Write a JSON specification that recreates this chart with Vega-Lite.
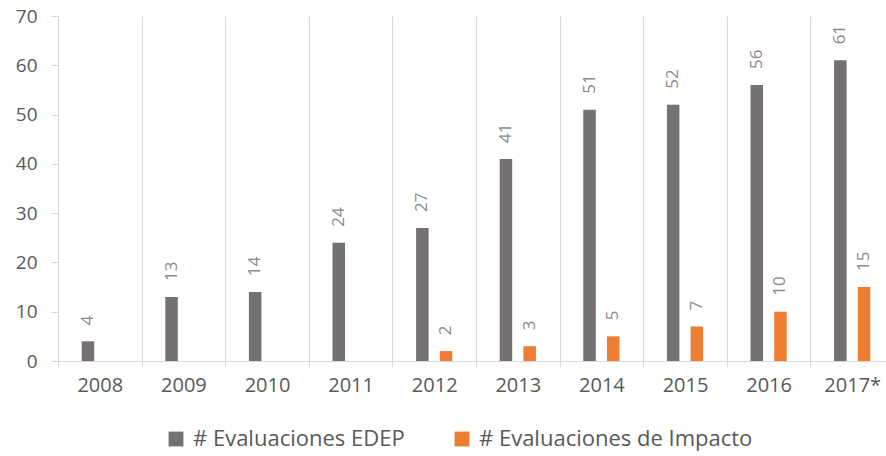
{
  "$schema": "https://vega.github.io/schema/vega-lite/v6.json",
  "width": 836,
  "height": 345,
  "autosize": {"type": "none"},
  "padding": {"left": 58, "top": 16, "right": 0, "bottom": 95},
  "config": {"view": {"stroke": null}, "font": "Open Sans"},
  "data": {
    "values": [
      {"year": "2008", "series": "# Evaluaciones EDEP", "value": 4},
      {"year": "2009", "series": "# Evaluaciones EDEP", "value": 13},
      {"year": "2010", "series": "# Evaluaciones EDEP", "value": 14},
      {"year": "2011", "series": "# Evaluaciones EDEP", "value": 24},
      {"year": "2012", "series": "# Evaluaciones EDEP", "value": 27},
      {"year": "2013", "series": "# Evaluaciones EDEP", "value": 41},
      {"year": "2014", "series": "# Evaluaciones EDEP", "value": 51},
      {"year": "2015", "series": "# Evaluaciones EDEP", "value": 52},
      {"year": "2016", "series": "# Evaluaciones EDEP", "value": 56},
      {"year": "2017*", "series": "# Evaluaciones EDEP", "value": 61},
      {"year": "2012", "series": "# Evaluaciones de Impacto", "value": 2},
      {"year": "2013", "series": "# Evaluaciones de Impacto", "value": 3},
      {"year": "2014", "series": "# Evaluaciones de Impacto", "value": 5},
      {"year": "2015", "series": "# Evaluaciones de Impacto", "value": 7},
      {"year": "2016", "series": "# Evaluaciones de Impacto", "value": 10},
      {"year": "2017*", "series": "# Evaluaciones de Impacto", "value": 15}
    ]
  },
  "encoding": {
    "x": {
      "field": "year",
      "type": "nominal",
      "sort": ["2008", "2009", "2010", "2011", "2012", "2013", "2014", "2015", "2016", "2017*"],
      "scale": {"paddingInner": 0, "paddingOuter": 0},
      "axis": {
        "title": null,
        "labelAngle": 0,
        "grid": true,
        "tickBand": "extent",
        "gridColor": "#d9d9d9",
        "domainColor": "#d9d9d9",
        "tickColor": "#d9d9d9",
        "tickSize": 6,
        "labelFontSize": 20,
        "labelColor": "#595959",
        "labelPadding": 8
      }
    },
    "xOffset": {
      "field": "series",
      "type": "nominal",
      "sort": ["# Evaluaciones EDEP", "# Evaluaciones de Impacto"],
      "scale": {"domain": ["# Evaluaciones EDEP", "# Evaluaciones de Impacto"], "paddingInner": 0.472, "paddingOuter": 1.153}
    },
    "y": {
      "field": "value",
      "type": "quantitative",
      "scale": {"domain": [0, 70]},
      "axis": {
        "title": null,
        "values": [0, 10, 20, 30, 40, 50, 60, 70],
        "grid": false,
        "domainColor": "#d9d9d9",
        "tickColor": "#d9d9d9",
        "tickSize": 7,
        "labelPadding": 14,
        "labelFontSize": 19,
        "labelColor": "#595959"
      }
    }
  },
  "layer": [
    {
      "mark": {"type": "bar"},
      "encoding": {
        "color": {
          "field": "series",
          "type": "nominal",
          "scale": {"domain": ["# Evaluaciones EDEP", "# Evaluaciones de Impacto"], "range": ["#767171", "#ED7D31"]},
          "legend": {
            "title": null,
            "orient": "none",
            "legendX": 107,
            "legendY": 412,
            "direction": "horizontal",
            "symbolType": "square",
            "symbolSize": 220,
            "symbolStrokeWidth": 0,
            "labelFontSize": 22,
            "labelColor": "#595959",
            "labelLimit": 400,
            "columnPadding": 46,
            "labelOffset": 6
          }
        }
      }
    },
    {
      "mark": {"type": "text", "angle": 270, "align": "left", "baseline": "middle", "dx": 16, "fontSize": 17, "color": "#8c8c8c"},
      "encoding": {"text": {"field": "value", "type": "quantitative"}}
    }
  ]
}
